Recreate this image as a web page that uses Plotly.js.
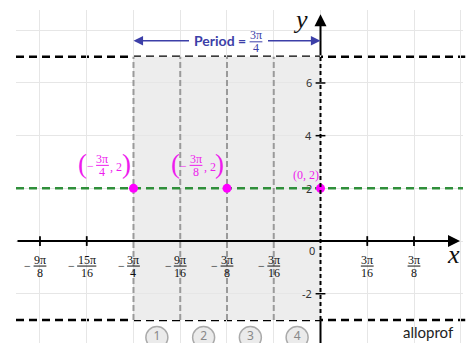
<!DOCTYPE html>
<html>
<head>
<meta charset="utf-8">
<script src="https://cdn.plot.ly/plotly-3.0.1.min.js"></script>
<style>html,body{margin:0;padding:0;background:#fff;}#chart{width:474px;height:361px;}</style>
</head>
<body>
<div id="chart"></div>
<script>
const PI = Math.PI;
// ---- data ----
const midline = 2;
const maxY = 7;
const minY = -3;
const period = 3 * PI / 4;
const keyX = [-3 * PI / 4, -3 * PI / 8, 0];
const keyY = [2, 2, 2];
const keyNum = ['3π', '3π', null];
const keyDen = ['4', '8', null];
const keyText = ['', '', '(0, 2)'];
const dividers = [-3 * PI / 4, -9 * PI / 16, -3 * PI / 8, -3 * PI / 16];
const quarterLabels = ['1', '2', '3', '4'];
const xTickVals = [-9 * PI / 8, -15 * PI / 16, -3 * PI / 4, -9 * PI / 16, -3 * PI / 8, -3 * PI / 16, 3 * PI / 16, 3 * PI / 8];
const xTickNum = ['9π', '15π', '3π', '9π', '3π', '3π', '3π', '3π'];
const xTickDen = ['8', '16', '4', '16', '8', '16', '16', '8'];
const xTickNeg = [true, true, true, true, true, true, false, false];
const xTickMarks = [-9 * PI / 8, -15 * PI / 16, 3 * PI / 16, 3 * PI / 8];
const yTickVals = [6, 4, 2, -2];
const yTickText = ['6', '4', '2', '-2'];
const yTickMarks = [6, 4, -2];
const periodNum = '3π';
const periodDen = '4';

// ---- layout helpers ----
const u = 3 * PI / 16;
const xRange = [-6.513 * u, 3.048 * u];
const yRange = [-3.87, 8.77];
const xArrowTip = 2.984 * u;
const yArrowTip = 8.61;
const periodY = 7.6;
const circleY = -3.66;

const gridX = [];
for (let k = -6; k <= 3; k++) gridX.push(k * u);

const BLUE = '#3c3fa8', GREEN = '#2f8f3a', MAG = '#ee1cee', MAGP = '#ff00ff';
const SERIF = 'Liberation Serif, DejaVu Serif, serif';
const SANS = 'Noto Sans, Open Sans, sans-serif';

const shapes = [];
const annotations = [];

// fraction builder: numerator / bar / denominator around (x, y) shifted by pixels
function frac(x, y, num, den, xs, ys, color, size, weight) {
  const font = {family: SERIF, size: size, color: color, weight: weight || 'normal'};
  annotations.push({x: x, y: y, xref: 'x', yref: 'y', text: num, showarrow: false, xanchor: 'center',
    yanchor: 'middle', xshift: xs, yshift: ys + 6.5, font: font});
  annotations.push({x: x, y: y, xref: 'x', yref: 'y', text: den, showarrow: false, xanchor: 'center',
    yanchor: 'middle', xshift: xs, yshift: ys - 6.5, font: font});
  const hw = Math.max(num.length, den.length) * 3.2;
  shapes.push({type: 'line', xref: 'x', yref: 'y', xsizemode: 'pixel', xanchor: x, x0: xs - hw, x1: xs + hw,
    ysizemode: 'pixel', yanchor: y, y0: ys, y1: ys, line: {color: color, width: 1}, layer: 'above'});
}

// shaded period region
shapes.push({type: 'rect', xref: 'x', yref: 'y', x0: -period, x1: 0, y0: minY, y1: maxY,
  fillcolor: '#ededed', line: {width: 0}, layer: 'below'});
// gray dashed dividers
dividers.forEach(d => shapes.push({type: 'line', xref: 'x', yref: 'y', x0: d, x1: d, y0: minY, y1: maxY,
  line: {color: '#9a9a9a', width: 2, dash: '6px,3px'}, layer: 'between'}));
// max/min dashed
[maxY, minY].forEach(v => shapes.push({type: 'line', xref: 'paper', yref: 'y', x0: 0, x1: 1.005, y0: v, y1: v,
  line: {color: '#000', width: 2.5, dash: '8px,5px'}, layer: 'between'}));
// y axis pieces
shapes.push({type: 'line', xref: 'x', yref: 'y', x0: 0, x1: 0, y0: yRange[0], y1: minY,
  line: {color: '#000', width: 2}, layer: 'above'});
shapes.push({type: 'line', xref: 'x', yref: 'y', x0: 0, x1: 0, y0: minY, y1: maxY,
  line: {color: '#000', width: 2, dash: '4px,3px'}, layer: 'above'});

// axis arrows
annotations.push({x: xArrowTip, y: 0, ax: xRange[0], ay: 0, xref: 'x', yref: 'y', axref: 'x', ayref: 'y',
  text: '', showarrow: true, arrowhead: 2, arrowsize: 1.2, arrowwidth: 2, arrowcolor: '#000', standoff: 0});
annotations.push({x: 0, y: yArrowTip, ax: 0, ay: maxY, xref: 'x', yref: 'y', axref: 'x', ayref: 'y',
  text: '', showarrow: true, arrowhead: 2, arrowsize: 1.2, arrowwidth: 2, arrowcolor: '#000', standoff: 0});
annotations.push({x: 0, y: yArrowTip, xref: 'x', yref: 'y', text: 'y', showarrow: false,
  xshift: -20, yshift: -5, font: {family: SERIF, size: 26, color: '#111', style: 'italic'}});
annotations.push({x: xArrowTip, y: 0, xref: 'x', yref: 'y', text: 'x', showarrow: false,
  xshift: -7, yshift: -13, font: {family: SERIF, size: 26, color: '#111', style: 'italic'}});

// period arrows (two halves, leaving room for the label)
annotations.push({x: -period, y: periodY, ax: 57, ay: 0, xref: 'x', yref: 'y',
  text: '', showarrow: true, arrowhead: 2, arrowsize: 1.2, arrowwidth: 1.6, arrowcolor: BLUE, standoff: 0});
annotations.push({x: 0, y: periodY, ax: -54, ay: 0, xref: 'x', yref: 'y',
  text: '', showarrow: true, arrowhead: 2, arrowsize: 1.2, arrowwidth: 1.6, arrowcolor: BLUE, standoff: 0});
annotations.push({x: -period / 2, y: periodY, xref: 'x', yref: 'y', text: '<b>Period =</b>', showarrow: false,
  xanchor: 'right', yanchor: 'middle', xshift: 21, font: {family: 'Lato, ' + SANS, size: 14, color: BLUE}});
frac(-period / 2, periodY, periodNum, periodDen, 29, -1, BLUE, 12);

// x tick labels (fractions)
xTickVals.forEach((v, i) => {
  frac(v, 0, xTickNum[i], xTickDen[i], 0, -25, '#111', 12);
  if (xTickNeg[i]) {
    const w = Math.max(xTickNum[i].length, xTickDen[i].length);
    annotations.push({x: v, y: 0, xref: 'x', yref: 'y', text: '−', showarrow: false,
      xanchor: 'center', yanchor: 'middle', yshift: -25, xshift: w > 2 ? -15 : -12,
      font: {family: SERIF, size: 12, color: '#111'}});
  }
});
// y tick labels
yTickVals.forEach((v, i) => annotations.push({x: 0, y: v, xref: 'x', yref: 'y', text: yTickText[i],
  showarrow: false, xanchor: 'right', xshift: -7, font: {family: SANS, size: 11, color: '#333'}}));
annotations.push({x: 0, y: 0, xref: 'x', yref: 'y', text: '0', showarrow: false, xanchor: 'right',
  xshift: -4, yshift: -9, font: {family: SANS, size: 11, color: '#333'}});

// key point labels
keyX.forEach((x, i) => {
  const y = keyY[i];
  if (keyNum[i]) {
    const base = {x: x, y: y, xref: 'x', yref: 'y', showarrow: false, xanchor: 'center', yanchor: 'middle'};
    annotations.push(Object.assign({}, base, {text: '(', xshift: -51, yshift: 24, font: {family: SERIF, size: 27, color: MAG}}));
    annotations.push(Object.assign({}, base, {text: '−', xshift: -43, yshift: 22, font: {family: SERIF, size: 12, color: MAG}}));
    frac(x, y, keyNum[i], keyDen[i], -31, 23, MAG, 12);
    annotations.push(Object.assign({}, base, {text: ', 2', xshift: -17, yshift: 21, font: {family: SERIF, size: 12, color: MAG}}));
    annotations.push(Object.assign({}, base, {text: ')', xshift: -7, yshift: 24, font: {family: SERIF, size: 27, color: MAG}}));
  } else {
    annotations.push({x: x, y: y, xref: 'x', yref: 'y', text: keyText[i], showarrow: false, xanchor: 'center',
      yanchor: 'middle', xshift: -15, yshift: 13, font: {family: SERIF, size: 12, color: MAG}});
  }
});

// logo
annotations.push({x: 0.985, y: 0.0, xref: 'paper', yref: 'paper', text: 'alloprof', showarrow: false,
  xanchor: 'right', yanchor: 'bottom', font: {family: 'Lato, ' + SANS, size: 15, color: '#222'}});

// quarter midpoints
const mids = dividers.map((d, i) => (d + (i + 1 < dividers.length ? dividers[i + 1] : 0)) / 2);

const traces = [
  {x: xRange, y: [midline, midline], mode: 'lines', hoverinfo: 'skip',
   line: {color: GREEN, width: 2.5, dash: '8px,5px'}},
  {x: xTickMarks, y: xTickMarks.map(() => 0), mode: 'markers', hoverinfo: 'skip',
   marker: {symbol: 'line-ns', size: 7, line: {color: '#000', width: 1.8}}},
  {x: yTickMarks.map(() => 0), y: yTickMarks, mode: 'markers', hoverinfo: 'skip',
   marker: {symbol: 'line-ew', size: 7, line: {color: '#000', width: 1.5}}},
  {x: keyX, y: keyY, mode: 'markers', hoverinfo: 'skip', marker: {color: MAGP, size: 9}},
  {x: mids, y: mids.map(() => circleY), mode: 'markers+text', text: quarterLabels, textposition: 'middle center',
   hoverinfo: 'skip', textfont: {family: SANS, size: 12, color: '#888'},
   marker: {color: '#ebebeb', size: 22, line: {color: '#aaaaaa', width: 1.5}}}
];

const layout = {
  width: 474, height: 361,
  margin: {l: 16, r: 11, t: 10, b: 18, pad: 0},
  paper_bgcolor: '#fff', plot_bgcolor: '#fff',
  showlegend: false,
  xaxis: {range: xRange, tickmode: 'array', tickvals: gridX, showticklabels: false, ticks: '',
    showgrid: true, gridcolor: '#e6e6e6', gridwidth: 1, zeroline: false, showline: false, fixedrange: true},
  yaxis: {range: yRange, tickmode: 'array', tickvals: [-2, 0, 2, 4, 6, 8], showticklabels: false, ticks: '',
    showgrid: true, gridcolor: '#e6e6e6', gridwidth: 1, zeroline: false, showline: false, fixedrange: true},
  shapes: shapes,
  annotations: annotations
};

Plotly.newPlot('chart', traces, layout, {displayModeBar: false, staticPlot: true});
</script>
</body>
</html>
